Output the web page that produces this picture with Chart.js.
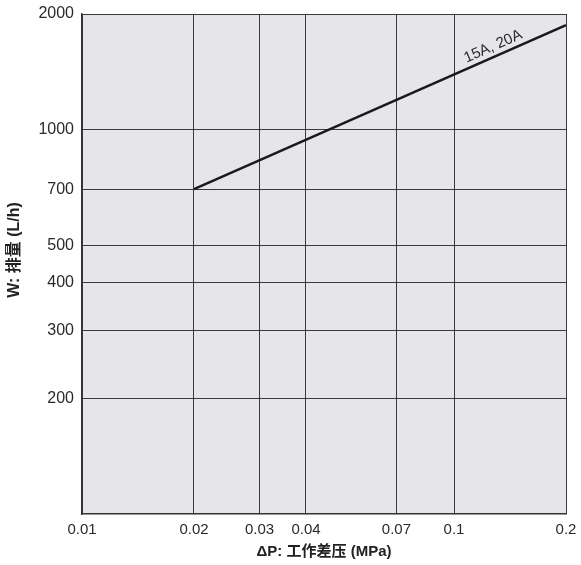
<!DOCTYPE html>
<html>
<head>
<meta charset="utf-8">
<script src="https://cdn.jsdelivr.net/npm/chart.js@4.4.0/dist/chart.umd.min.js"></script>
<style>
  html, body { margin: 0; padding: 0; background: #fff; }
  #wrap { width: 581px; height: 565px; }
</style>
</head>
<body>
<div id="wrap"><canvas id="chart1" width="581" height="565"></canvas></div>
<script>
// axis ticks
const xTicks = [0.01, 0.02, 0.03, 0.04, 0.07, 0.1, 0.2];
const xTickLabels = ['0.01', '0.02', '0.03', '0.04', '0.07', '0.1', '0.2'];
const yTicks = [200, 300, 400, 500, 700, 1000, 2000];
const yTickLabels = ['200', '300', '400', '500', '700', '1000', '2000'];

// 15A, 20A line
const pressure = [0.02, 0.2];
const flow = [700, 1870];
const seriesName = '15A, 20A';
const yTitle = 'W: 排量 (L/h)';

const FONT = "'Liberation Sans', Arial, 'Noto Sans CJK SC', sans-serif";

const plotBg = {
  id: 'plotBg',
  beforeDraw(chart) {
    const a = chart.chartArea;
    const c = chart.ctx;
    c.save();
    c.fillStyle = '#e6e5e9';
    c.fillRect(a.left, a.top, a.right - a.left, a.bottom - a.top);
    c.restore();
  }
};

// rotated series name sitting on the line, plus the y title (sits a bit above centre in the original)
const labels = {
  id: 'labels',
  afterDatasetsDraw(chart) {
    const xs = chart.scales.x, ys = chart.scales.y;
    const x0 = xs.getPixelForValue(pressure[0]), y0 = ys.getPixelForValue(flow[0]);
    const x1 = xs.getPixelForValue(pressure[1]), y1 = ys.getPixelForValue(flow[1]);
    const ang = Math.atan2(y1 - y0, x1 - x0);
    const t = 0.815;
    const px = x0 + (x1 - x0) * t, py = y0 + (y1 - y0) * t;
    const off = 10;
    const c = chart.ctx;
    c.save();
    c.translate(px + Math.sin(ang) * off, py - Math.cos(ang) * off);
    c.rotate(ang);
    c.font = '15px ' + FONT;
    c.fillStyle = '#2a2a2a';
    c.textAlign = 'center';
    c.textBaseline = 'middle';
    c.fillText(seriesName, 0, 0);
    c.restore();

    const a = chart.chartArea;
    c.save();
    c.translate(15, (a.top + a.bottom) / 2 - 14);
    c.rotate(-Math.PI / 2);
    c.font = 'bold 16px ' + FONT;
    c.fillStyle = '#222';
    c.textAlign = 'center';
    c.textBaseline = 'middle';
    c.fillText(yTitle, 0, 0);
    c.restore();
  }
};

const ctx1 = document.getElementById('chart1').getContext('2d');
const chart1 = new Chart(ctx1, {
  type: 'line',
  data: {
    datasets: [{
      label: seriesName,
      data: pressure.map((p, i) => ({ x: p, y: flow[i] })),
      borderColor: '#1a1a1a',
      borderWidth: 2.5,
      pointRadius: 0,
      fill: false
    }]
  },
  options: {
    responsive: false,
    animation: false,
    devicePixelRatio: 1,
    layout: { padding: { left: 0, right: 15, top: 14, bottom: 0 } },
    plugins: { legend: { display: false }, tooltip: { enabled: false } },
    scales: {
      x: {
        type: 'logarithmic',
        min: 0.01,
        max: 0.2,
        afterBuildTicks: s => { s.ticks = xTicks.map(v => ({ value: v })); },
        afterFit: s => { s.height = 51; s.paddingLeft = 0; s.paddingRight = 0; },
        grid: { color: '#3a3a3a', lineWidth: 1, drawTicks: false },
        border: { color: '#333', width: 1.5 },
        ticks: {
          autoSkip: false,
          maxRotation: 0,
          padding: 7,
          color: '#2a2a2a',
          font: { family: FONT, size: 15 },
          callback: (v, i) => xTickLabels[i]
        },
        title: {
          display: true,
          text: 'ΔP: 工作差压 (MPa)',
          color: '#222',
          font: { family: FONT, size: 15, weight: 'bold' },
          padding: { top: 2, bottom: 4 }
        }
      },
      y: {
        type: 'logarithmic',
        min: 100,
        max: 2000,
        afterBuildTicks: s => { s.ticks = yTicks.map(v => ({ value: v })); },
        afterFit: s => { s.width = 82; s.paddingTop = 0; s.paddingBottom = 0; },
        grid: { color: '#3a3a3a', lineWidth: 1, drawTicks: false },
        border: { color: '#333', width: 1.5 },
        ticks: {
          autoSkip: false,
          padding: 8,
          color: '#2a2a2a',
          font: { family: FONT, size: 16 },
          callback: (v, i) => yTickLabels[i]
        }
      }
    }
  },
  plugins: [plotBg, labels]
});
</script>
</body>
</html>
